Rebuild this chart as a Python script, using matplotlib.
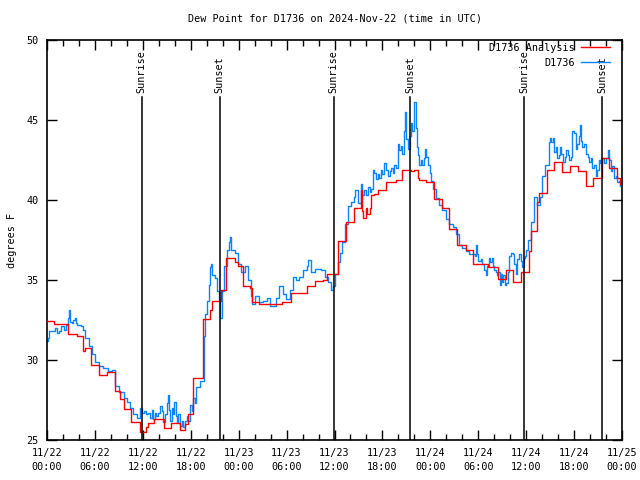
import matplotlib
matplotlib.use("Agg")
import matplotlib.pyplot as plt
import numpy as np

# ---- data (hours since 2024-11-22 00:00 UTC) ----
obs_hours = [0.0, 0.1, 0.31, 0.63, 1.04, 1.3, 1.56, 1.8, 2.13, 2.4, 2.63, 2.75, 2.9, 3.08, 3.3, 3.5, 3.6,
             3.75, 4.2, 4.5, 4.75, 5.2, 5.6,
             6.0, 6.46, 6.96, 7.6, 8.1, 8.54, 9.04, 9.58, 10.0, 10.4, 10.8, 11.25,
             11.67, 11.9, 12.17, 12.45, 12.7, 12.9, 13.1, 13.3, 13.5, 13.67, 13.9, 14.17, 14.35, 14.58,
             14.8, 15.0, 15.1, 15.25, 15.4, 15.6, 15.8, 15.95, 16.1, 16.25, 16.45, 16.67, 16.85, 17.08,
             17.3, 17.5, 17.7, 17.9, 18.1, 18.33, 18.5, 18.67, 19.1,
             19.6, 19.8, 20.04, 20.25, 20.46, 20.5, 20.7, 21.0, 21.25, 21.5, 21.7, 21.9,
             22.2, 22.5, 22.8, 22.875, 23.1, 23.5, 23.9, 24.3, 24.75, 25.2, 25.5, 25.7, 26.1, 26.6,
             27.0, 27.5, 27.9, 28.3, 28.7, 29.1, 29.5, 29.96, 30.4, 30.8, 31.2, 31.6, 32.04, 32.5,
             32.67, 33.1, 33.5, 33.9, 34.3, 34.75, 35.2, 35.6, 35.8, 36.0, 36.4, 36.7, 37.0, 37.3,
             37.7, 38.1, 38.5, 38.6, 38.9,
             39.3, 39.5, 39.75, 40.0, 40.2, 40.4, 40.6, 40.8, 41.0, 41.2, 41.4, 41.6, 41.8, 42.0,
             42.25, 42.5, 42.7, 42.9, 43.1, 43.3, 43.5, 43.7, 43.9, 44.1, 44.3, 44.5, 44.75, 44.8,
             45.0, 45.2, 45.4, 45.6, 45.75, 45.9, 46.0, 46.15, 46.3, 46.45, 46.6, 46.8, 47.0, 47.2,
             47.35, 47.5, 47.7, 47.9, 48.1, 48.3,
             48.7, 49.1, 49.5, 50.0, 50.4, 50.8, 51.2, 51.6, 52.0, 52.5, 52.9, 53.3,
             53.6, 53.7, 53.8, 54.0, 54.3, 54.5, 54.75, 54.96, 55.1, 55.3, 55.5, 55.7, 55.9, 56.0,
             56.2, 56.3, 56.5, 56.7, 56.85, 57.0, 57.15, 57.3, 57.5, 57.7, 57.9, 58.1, 58.3, 58.5,
             58.7, 58.9, 59.1, 59.3, 59.5, 59.7, 59.8, 60.0, 60.2,
             60.6, 61.0, 61.3, 61.7, 62.0, 62.4,
             62.8, 62.95, 63.1, 63.3, 63.5, 63.7, 63.9, 64.05, 64.25, 64.4, 64.6, 64.8, 64.96, 65.2,
             65.4, 65.6, 65.8, 66.0, 66.2, 66.4, 66.6, 66.7, 66.85, 67.0, 67.25, 67.5, 67.7, 67.9,
             68.1, 68.3, 68.5, 68.7, 68.9, 69.1, 69.25, 69.5, 69.75, 70.0, 70.2, 70.4, 70.6, 70.8,
             71.0, 71.2, 71.4, 71.6, 71.75]
obs_dewpt = [31.2, 31.4, 31.8, 31.8, 32.0, 31.7, 31.8, 32.1, 31.9, 32.2, 32.6, 33.1, 32.4, 32.3, 32.5, 32.6, 32.3,
             32.2, 32.1, 31.9, 31.4, 30.9, 30.4,
             29.9, 29.6, 29.5, 29.3, 29.4, 28.4, 28.0, 27.6, 27.4, 27.0, 26.6, 26.4,
             27.0, 26.7, 26.8, 26.6, 26.7, 26.4, 26.9, 26.3, 26.7, 26.5, 26.7, 27.1, 26.8, 26.1,
             26.6, 27.3, 27.8, 26.9, 26.2, 27.0, 26.6, 27.4, 26.5, 26.1, 26.6, 25.9, 26.2, 25.8,
             26.2, 26.5, 26.2, 27.2, 26.8, 27.6, 27.3, 28.3, 28.7,
             31.5, 32.9, 33.7, 34.7, 35.8, 36.0, 35.3, 35.1, 34.3, 33.7, 32.6, 34.3,
             35.9, 36.9, 37.4, 37.7, 36.9, 36.7, 36.0, 35.5, 35.9, 35.0, 34.0, 33.5, 34.0, 33.6,
             33.7, 33.9, 33.4, 33.4, 33.9, 34.6, 34.1, 33.8, 34.4, 35.2, 35.0, 35.2, 35.6, 35.9,
             36.25, 35.5, 35.7, 35.7, 35.6, 35.2, 34.9, 34.4, 34.6, 35.4, 36.1, 36.7, 37.4, 38.5,
             39.6, 39.9, 40.2, 40.6, 39.8,
             41.0, 40.3, 40.6, 40.3, 40.8, 40.5, 40.7, 41.9, 41.7, 41.3, 41.6, 41.4, 41.9, 41.6,
             42.3, 41.9, 41.5, 41.8, 42.0, 41.7, 42.2, 42.0, 43.5, 43.1, 43.4, 42.9, 44.3, 45.5,
             43.8, 43.2, 44.0, 44.8, 44.3, 45.3, 46.1, 44.5, 43.3, 42.8, 42.2, 42.5, 42.2, 42.6,
             43.2, 42.7, 42.2, 41.7, 41.2, 40.7,
             40.1, 39.7, 39.4, 38.8, 38.5, 38.3, 37.9, 37.2, 37.0, 36.8, 36.6, 36.6,
             36.5, 37.2, 36.6, 36.2, 36.3, 36.0, 35.6, 35.3, 35.9, 36.4, 36.1, 36.35, 35.9, 35.6,
             35.5, 35.3, 35.5, 34.7, 35.4, 34.9, 35.3, 34.7, 34.8, 35.5, 36.5, 36.7, 36.6, 36.0,
             35.4, 36.3, 36.6, 36.2, 35.8, 36.4, 36.5, 36.9, 37.5,
             38.6, 40.2, 39.7, 40.2, 41.5, 42.2,
             43.6, 43.9, 43.6, 43.9, 43.0, 43.3, 42.6, 42.8, 43.3, 42.9, 42.4, 42.7, 43.1, 42.8,
             42.5, 42.7, 44.3, 44.2, 43.2, 43.5, 44.0, 44.7, 43.7, 43.3, 43.5, 42.9, 42.7, 42.4,
             42.6, 42.0, 42.2, 41.5, 41.9, 42.5, 42.3, 42.6, 42.3, 42.6, 43.1, 42.5, 41.8, 42.1,
             41.4, 41.5, 41.1, 41.2, 40.9]

ana_hours = [0.0, 0.83, 2.6, 3.75, 4.5, 4.7, 5.5, 6.5, 7.5, 8.5, 9.1, 9.7, 10.5, 11.7, 12.4, 12.7,
             13.4, 14.6, 15.5, 16.6, 17.3, 17.6, 18.3, 19.5, 20.46, 20.7, 21.75, 22.4, 23.5, 23.9,
             24.5, 25.4, 25.7, 26.6, 29.46, 30.6, 32.5, 33.6, 34.5, 35.0, 36.4, 37.46, 38.5, 39.3,
             39.4, 39.6, 39.9, 40.1, 40.4, 40.6, 41.0, 41.5, 42.5, 43.7, 44.5, 45.6, 45.9, 46.4,
             46.6, 47.5, 48.5, 49.5, 50.4, 51.4, 52.5, 53.3, 55.2, 56.5, 57.5, 58.4, 59.4, 60.4,
             60.6, 61.4, 61.6, 62.6, 63.5, 64.5, 65.5, 66.5, 67.5, 68.4, 69.5, 70.4, 71.4, 71.75]
ana_dewpt = [32.46, 32.23, 31.6, 31.5, 30.58, 30.73, 29.69, 29.04, 29.25, 28.08, 27.54, 26.92, 26.12,
             25.5, 25.83, 26.06, 26.33, 25.77, 26.08, 25.65, 26.0, 26.6, 28.9, 32.54, 33.1, 33.7,
             34.4, 36.4, 36.1, 35.9, 34.6, 34.5, 33.6, 33.5, 33.65, 34.2, 34.6, 34.96, 35.0, 35.35,
             37.46, 38.65, 39.5, 40.6, 39.3, 38.9, 39.5, 39.1, 39.5, 40.3, 40.4, 40.6, 41.1, 41.25,
             41.9, 41.8, 41.9, 41.35, 41.25, 41.15, 40.04, 39.5, 38.2, 37.2, 36.9, 36.0, 35.8, 35.05,
             35.6, 34.9, 35.5, 36.8, 38.06, 39.9, 40.46, 41.9, 42.35, 41.75, 42.1, 41.8, 40.9, 41.35,
             42.6, 41.98, 41.35, 41.0]

sun_hours = [11.875, 21.6, 35.875, 45.5, 59.75, 69.5]
sun_labels = ["Sunrise", "Sunset", "Sunrise", "Sunset", "Sunrise", "Sunset"]

tick_hours = list(range(0, 73, 6))
tick_labels = ["11/22\n00:00", "11/22\n06:00", "11/22\n12:00", "11/22\n18:00",
               "11/23\n00:00", "11/23\n06:00", "11/23\n12:00", "11/23\n18:00",
               "11/24\n00:00", "11/24\n06:00", "11/24\n12:00", "11/24\n18:00",
               "11/25\n00:00"]

assert len(obs_hours) == len(obs_dewpt)
assert len(ana_hours) == len(ana_dewpt)

# ---- plot ----
plt.rcParams['font.family'] = ['DejaVu Sans Mono']
fig = plt.figure(figsize=(6.4, 4.8), dpi=100)
ax = fig.add_axes([47/640, 1 - 440/480, 575/640, 400/480])

red = '#ff0000'
blue = '#0a84ff'

ax.step(ana_hours, ana_dewpt, where='post', color=red, lw=1.0, label='D1736 Analysis', zorder=3)
ax.step(obs_hours, obs_dewpt, where='post', color=blue, lw=1.0, label='D1736', zorder=2)

for h, lab in zip(sun_hours, sun_labels):
    ax.axvline(h, ymin=0, ymax=0.8575, color='black', lw=1.1, zorder=4)
    ax.text(h, 0.8675, lab, rotation=90, ha='center', va='bottom',
            transform=ax.get_xaxis_transform(), fontsize=7.3)

ax.set_xlim(0, 72)
ax.set_ylim(25, 50)
ax.set_xticks(tick_hours)
ax.set_xticklabels(tick_labels, fontsize=7.3, linespacing=1.4)
ax.set_xticks(np.arange(0, 73, 2), minor=True)
ax.set_yticks([25, 30, 35, 40, 45, 50])
ax.tick_params(axis='y', labelsize=7.3)
ax.tick_params(which='both', direction='in', top=True, right=True, width=1)
ax.tick_params(which='major', length=7, pad=6)
ax.tick_params(which='minor', length=4)
for s in ax.spines.values():
    s.set_linewidth(1.2)

ax.set_ylabel('degrees F', fontsize=7.3, labelpad=7)
ax.set_title('Dew Point for D1736 on 2024-Nov-22 (time in UTC)', fontsize=7.3, pad=13)

leg = ax.legend(loc='upper right', bbox_to_anchor=(0.985, 1.0), frameon=False,
                markerfirst=False, fontsize=7.3,
                handlelength=2.9, handletextpad=0.6, labelspacing=0.45,
                borderaxespad=0.2, borderpad=0.1)
for t in leg.get_texts():
    t.set_ha('right')

fig.savefig('out.png', dpi=100)
